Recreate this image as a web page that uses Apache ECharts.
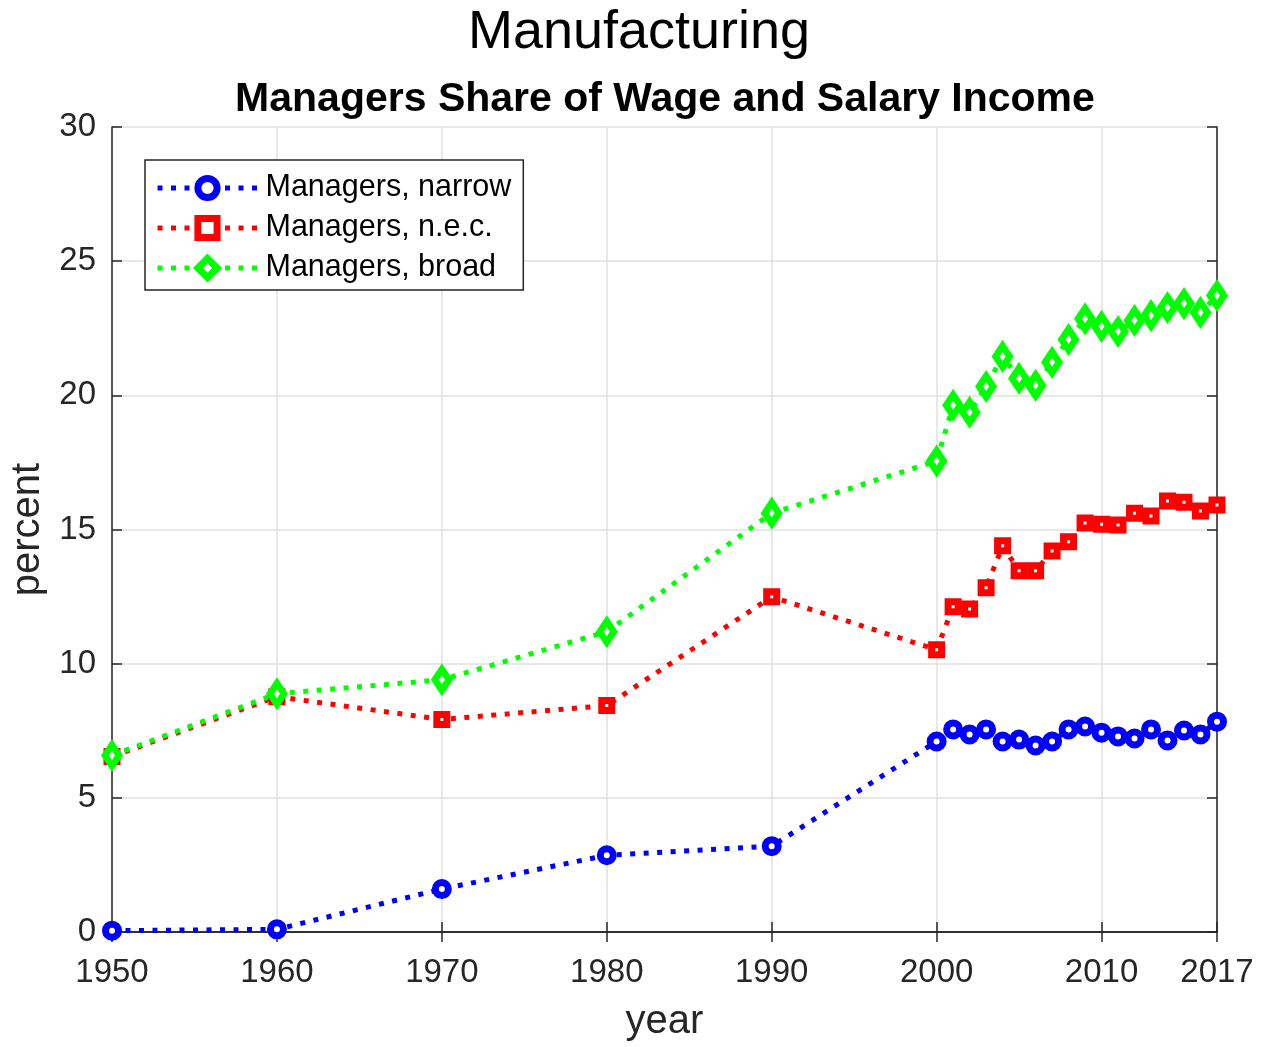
<!DOCTYPE html>
<html>
<head>
<meta charset="utf-8">
<script src="https://cdn.jsdelivr.net/npm/echarts@6/dist/echarts.min.js"></script>
<style>
  html, body { margin: 0; padding: 0; background: #fff; }
  #main { width: 1268px; height: 1047px; }
</style>
</head>
<body>
<div id="main"></div>
<script>
// years on the x axis
var years = [1950, 1960, 1970, 1980, 1990, 2000, 2001, 2002, 2003, 2004, 2005, 2006,
  2007, 2008, 2009, 2010, 2011, 2012, 2013, 2014, 2015, 2016, 2017];
// managers share, percent
var narrow = [0.05, 0.1, 1.6, 2.86, 3.2, 7.10, 7.55, 7.36, 7.55, 7.10, 7.17, 6.95,
  7.10, 7.55, 7.66, 7.43, 7.29, 7.21, 7.55, 7.14, 7.51, 7.36, 7.84];
var nec = [6.54, 8.77, 7.92, 8.44, 12.49, 10.52, 12.12, 12.04, 12.83, 14.39, 13.46, 13.46,
  14.2, 14.54, 15.24, 15.2, 15.17, 15.61, 15.5, 16.06, 16.02, 15.69, 15.91];
var broad = [6.58, 8.88, 9.4, 11.19, 15.61, 17.55, 19.63, 19.37, 20.33, 21.45, 20.63, 20.37,
  21.23, 22.08, 22.85, 22.57, 22.38, 22.79, 22.97, 23.27, 23.42, 23.09, 23.72];
var seriesNames = ['Managers, narrow', 'Managers, n.e.c.', 'Managers, broad'];

function pairs(vals) {
  return years.map(function (y, i) { return [y, vals[i]]; });
}

var axisColor = '#262626';
var font = 'Liberation Sans, Arial, sans-serif';
var dots = [5, 8.5];

var chart = echarts.init(document.getElementById('main'));

function mkSeries(name, vals, color, symbol, size, bw) {
  return {
    name: name,
    type: 'line',
    data: pairs(vals),
    symbol: symbol,
    symbolSize: size,
    showAllSymbol: true,
    lineStyle: { color: color, width: 5, type: dots },
    itemStyle: { color: '#fff', borderColor: color, borderWidth: bw },
    emphasis: { disabled: true }
  };
}

chart.setOption({
  animation: false,
  title: [{
    text: 'Manufacturing',
    left: 634,
    top: 1,
    textAlign: 'center',
    textStyle: { fontFamily: font, fontSize: 54, fontWeight: 'normal', color: '#000' }
  }, {
    text: 'Managers Share of Wage and Salary Income',
    left: 660,
    top: 74,
    textAlign: 'center',
    textStyle: { fontFamily: font, fontSize: 41, fontWeight: 'bold', color: '#000' }
  }],
  legend: {
    orient: 'vertical',
    left: 145,
    top: 160,
    data: seriesNames,
    itemWidth: 100,
    itemHeight: 24,
    itemGap: 0,
    padding: [8, 12, 2, 10],
    borderColor: '#262626',
    borderWidth: 1.5,
    backgroundColor: '#fff',
    lineStyle: { width: 5, type: dots },
    itemStyle: { borderWidth: 7 },
    textStyle: { fontFamily: font, fontSize: 30.5, color: '#000', lineHeight: 40, padding: [0, 0, 0, 3] }
  },
  grid: { left: 111, right: 51, top: 127, bottom: 112, containLabel: false },
  xAxis: [{
    type: 'value',
    min: 1950,
    max: 2017,
    interval: 10,
    name: 'year',
    nameLocation: 'middle',
    nameGap: 70,
    nameTextStyle: { fontFamily: font, fontSize: 40, color: axisColor },
    axisLine: { lineStyle: { color: axisColor, width: 1.5 } },
    axisTick: { inside: true, length: 10, lineStyle: { color: axisColor, width: 1.5 } },
    axisLabel: {
      fontFamily: font, fontSize: 33, color: axisColor, margin: 24,
      showMaxLabel: true, showMinLabel: true,
      formatter: function (v) { return String(v); }
    },
    splitLine: { show: true, lineStyle: { color: '#e0e0e0', width: 1.5 } }
  }, {
    type: 'value',
    position: 'top',
    min: 1950,
    max: 2017,
    interval: 10,
    axisLine: { lineStyle: { color: axisColor, width: 1.5 } },
    axisTick: { inside: true, length: 10, lineStyle: { color: axisColor, width: 1.5 } },
    axisLabel: { show: false },
    splitLine: { show: false }
  }],
  yAxis: [{
    type: 'value',
    min: 0,
    max: 30,
    interval: 5,
    name: 'percent',
    nameLocation: 'middle',
    nameGap: 64,
    nameTextStyle: { fontFamily: font, fontSize: 40, color: axisColor },
    axisLine: { show: true, lineStyle: { color: axisColor, width: 1.5 } },
    axisTick: { show: true, inside: true, length: 10, lineStyle: { color: axisColor, width: 1.5 } },
    axisLabel: { fontFamily: font, fontSize: 33, color: axisColor, margin: 16 },
    splitLine: { show: true, lineStyle: { color: '#e0e0e0', width: 1.5 } }
  }, {
    type: 'value',
    position: 'right',
    min: 0,
    max: 30,
    interval: 5,
    axisLine: { show: true, lineStyle: { color: axisColor, width: 1.5 } },
    axisTick: { show: true, inside: true, length: 10, lineStyle: { color: axisColor, width: 1.5 } },
    axisLabel: { show: false },
    splitLine: { show: false }
  }],
  series: [
    mkSeries(seriesNames[0], narrow, '#0000ff', 'circle', 13, 7),
    mkSeries(seriesNames[1], nec, '#ff0000', 'rect', 10, 7),
    mkSeries(seriesNames[2], broad, '#00ff00', 'diamond', [14, 21], 7)
  ]
});
</script>
</body>
</html>
